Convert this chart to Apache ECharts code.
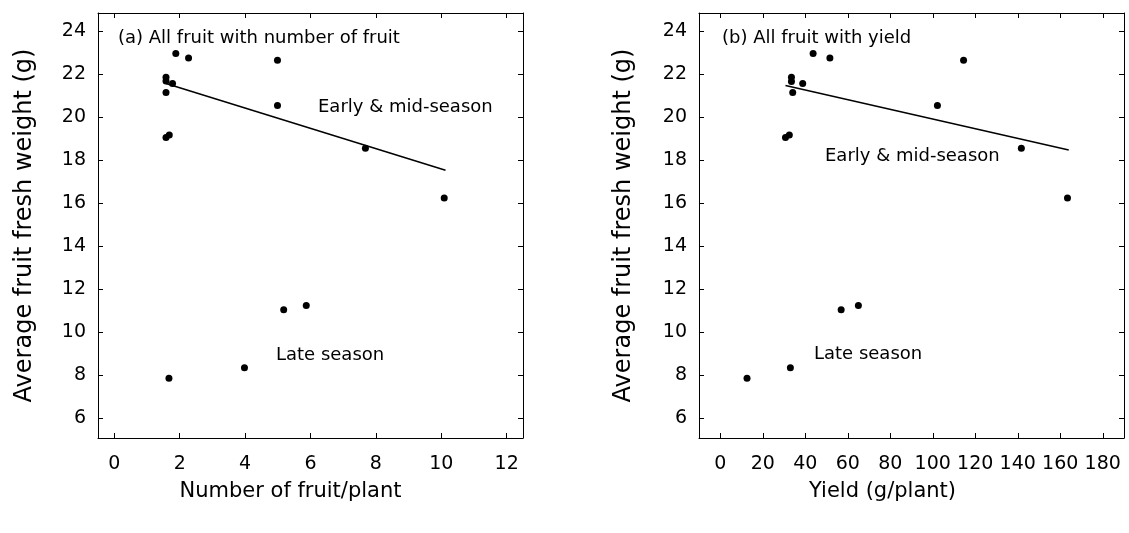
<!DOCTYPE html>
<html>
<head>
<meta charset="utf-8">
<script src="https://cdn.jsdelivr.net/npm/echarts@6/dist/echarts.min.js"></script>
<style>
  html, body { margin: 0; padding: 0; background: #fff; }
  #chart { width: 1129px; height: 533px; }
</style>
</head>
<body>
<div id="chart"></div>
<script>
// panel (a): number of fruit per plant vs average fresh weight
const fruitCount = [1.88, 2.27, 4.99, 1.58, 1.58, 1.78, 1.58, 4.99, 1.58, 1.68, 7.68, 10.09, 1.67, 3.98, 5.18, 5.87]
const weightA = [22.96, 22.75, 22.65, 21.86, 21.68, 21.57, 21.15, 20.55, 19.06, 19.17, 18.55, 16.24, 7.85, 8.34, 11.04, 11.24]
const fitA = [[1.58, 21.57], [10.13, 17.53]]

// panel (b): yield vs average fresh weight
const yieldPerPlant = [43.7, 51.6, 114.5, 33.5, 33.5, 38.8, 34.1, 102.2, 30.7, 32.5, 141.7, 163.4, 12.6, 33.0, 56.9, 65.0]
const weightB = [22.96, 22.75, 22.65, 21.86, 21.66, 21.57, 21.15, 20.55, 19.06, 19.17, 18.55, 16.24, 7.85, 8.34, 11.04, 11.24]
const fitB = [[30.7, 21.48], [164, 18.47]]

const yTicks = [6, 8, 10, 12, 14, 16, 18, 20, 22, 24]
const xTicksA = [0, 2, 4, 6, 8, 10, 12]
const xTicksB = [0, 20, 40, 60, 80, 100, 120, 140, 160, 180]

const FONT = 'DejaVu Sans, sans-serif'
const INK = '#000'

const zip = (xs, ys) => xs.map((x, i) => [x, ys[i]])

function axis(opts, ticks, showLabel) {
  return Object.assign({
    type: 'value',
    splitLine: { show: false },
    axisLine: { show: true, onZero: false, lineStyle: { color: INK, width: 1 } },
    axisTick: { show: true, inside: true, length: 5, customValues: ticks, lineStyle: { color: INK } },
    axisLabel: { show: showLabel, customValues: ticks, color: INK, fontFamily: FONT, fontSize: 19 }
  }, opts)
}

function label(ticks, margin) {
  return { show: true, customValues: ticks, color: INK, fontFamily: FONT, fontSize: 19, margin: margin }
}

function note(text, x, y) {
  return {
    type: 'text',
    x: x,
    y: y,
    style: { text: text, fill: INK, font: '18px ' + FONT, verticalAlign: 'middle' }
  }
}

const yName = 'Average fruit fresh weight (g)'
const yNameStyle = { color: INK, fontFamily: FONT, fontSize: 24 }

const chart = echarts.init(document.getElementById('chart'))

const option = {
  animation: false,
  backgroundColor: '#fff',
  grid: [
    { left: 98, top: 13, width: 425, height: 425 },
    { left: 699, top: 13, width: 425, height: 425 }
  ],
  xAxis: [
    axis({
      gridIndex: 0, position: 'bottom', min: -0.5, max: 12.5,
      name: 'Number of fruit/plant', nameLocation: 'middle', nameGap: 43,
      nameTextStyle: { color: INK, fontFamily: FONT, fontSize: 21, padding: [0, 40, 0, 0] },
      axisLabel: label(xTicksA, 17)
    }, xTicksA, true),
    axis({ gridIndex: 0, position: 'top', min: -0.5, max: 12.5 }, xTicksA, false),
    axis({
      gridIndex: 1, position: 'bottom', min: -10, max: 190,
      name: 'Yield (g/plant)', nameLocation: 'middle', nameGap: 43,
      nameTextStyle: { color: INK, fontFamily: FONT, fontSize: 21, padding: [0, 58, 0, 0] },
      axisLabel: label(xTicksB, 17)
    }, xTicksB, true),
    axis({ gridIndex: 1, position: 'top', min: -10, max: 190 }, xTicksB, false)
  ],
  yAxis: [
    axis({
      gridIndex: 0, position: 'left', min: 5.07, max: 24.85,
      name: yName, nameLocation: 'middle', nameGap: 61, nameTextStyle: yNameStyle,
      axisLabel: label(yTicks, 12)
    }, yTicks, true),
    axis({ gridIndex: 0, position: 'right', min: 5.07, max: 24.85 }, yTicks, false),
    axis({
      gridIndex: 1, position: 'left', min: 5.07, max: 24.85,
      name: yName, nameLocation: 'middle', nameGap: 63, nameTextStyle: yNameStyle,
      axisLabel: label(yTicks, 12)
    }, yTicks, true),
    axis({ gridIndex: 1, position: 'right', min: 5.07, max: 24.85 }, yTicks, false)
  ],
  series: [
    {
      type: 'scatter', xAxisIndex: 0, yAxisIndex: 0,
      data: zip(fruitCount, weightA),
      symbolSize: 7, itemStyle: { color: '#000', opacity: 1 }
    },
    {
      type: 'line', xAxisIndex: 0, yAxisIndex: 0,
      data: fitA, symbol: 'none',
      lineStyle: { color: '#000', width: 1.5 }
    },
    {
      type: 'scatter', xAxisIndex: 2, yAxisIndex: 2,
      data: zip(yieldPerPlant, weightB),
      symbolSize: 7, itemStyle: { color: '#000', opacity: 1 }
    },
    {
      type: 'line', xAxisIndex: 2, yAxisIndex: 2,
      data: fitB, symbol: 'none',
      lineStyle: { color: '#000', width: 1.5 }
    }
  ],
  graphic: [
    note('(a) All fruit with number of fruit', 118, 38),
    note('Early & mid-season', 318, 107),
    note('Late season', 276, 355),
    note('(b) All fruit with yield', 722, 38),
    note('Early & mid-season', 825, 156),
    note('Late season', 814, 354)
  ]
}

chart.setOption(option)
</script>
</body>
</html>
